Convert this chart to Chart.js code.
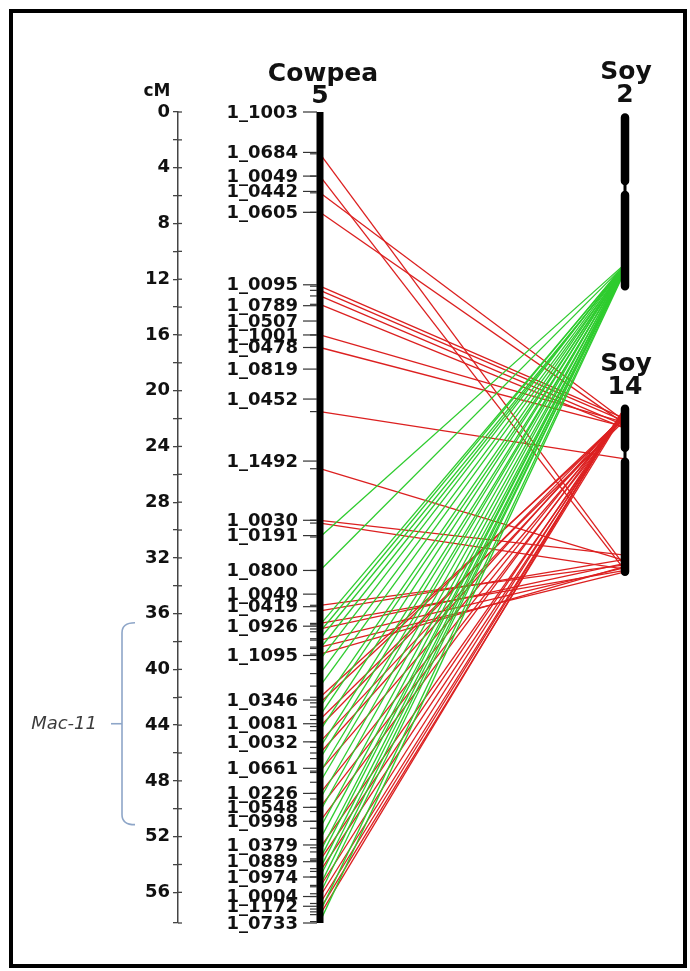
<!DOCTYPE html>
<html>
<head>
<meta charset="utf-8">
<script src="https://cdn.jsdelivr.net/npm/chart.js@4.4.1/dist/chart.umd.min.js"></script>
<style>
  html, body { margin: 0; padding: 0; background: #fff; }
  #wrap { width: 690px; height: 971px; }
</style>
</head>
<body>
<div id="wrap"><canvas id="map" width="690" height="971"></canvas></div>
<script>
// ---- Cowpea linkage group 5 (cM) ----
const mapLength = 58.2;
const markerNames = ['1_1003','1_0684','1_0049','1_0442','1_0605','1_0095','1_0789','1_0507','1_1001','1_0478',
  '1_0819','1_0452','1_1492','1_0030','1_0191','1_0800','1_0040','1_0419','1_0926','1_1095','1_0346','1_0081',
  '1_0032','1_0661','1_0226','1_0548','1_0998','1_0379','1_0889','1_0974','1_0004','1_1172','1_0733'];
const markerCM = [0, 2.9, 4.6, 5.7, 7.2, 12.4, 13.9, 15.0, 16.0, 16.9,
  18.45, 20.6, 25.05, 29.3, 30.4, 32.9, 34.6, 35.5, 36.9, 39.0, 42.2, 43.9,
  45.2, 47.1, 48.9, 49.9, 50.9, 52.6, 53.8, 54.9, 56.3, 57.0, 58.2];

// ---- Syntenic links: cowpea position -> soybean position (same vertical units) ----
const soy2From = [30.5, 32.9, 36.8, 37.3, 37.8, 38.5, 39.3, 40.3, 41.2, 42.7, 43.3, 44.4, 45.6, 46.4,
  47.4, 48.1, 49.3, 50.2, 51.4, 52.2, 53.1, 53.6, 54.3, 54.9, 55.5, 56.1, 57.4, 58.1];
const soy2To = [10.9, 10.95, 11.0, 10.9, 11.1, 11.0, 10.9, 11.0, 11.1, 11.0, 11.2, 11.0, 11.1, 11.0,
  11.2, 11.1, 11.0, 11.2, 11.1, 11.3, 11.2, 11.1, 11.3, 11.2, 11.3, 11.2, 11.3, 11.4];

const soy14From = [3.0, 4.6, 5.8, 7.2, 12.5, 12.8, 13.2, 13.8, 16.0, 16.9, 21.5, 25.6, 29.3, 29.5,
  35.4, 35.8, 36.7, 37.1, 37.9, 38.4, 38.9, 42.0, 42.4, 43.6, 44.1, 45.2, 46.0, 47.3, 48.9, 49.9,
  50.9, 52.8, 53.7, 54.5, 55.6, 56.3, 56.8, 57.2, 57.6];
const soy14To = [32.6, 32.9, 22.2, 22.4, 22.0, 22.2, 22.5, 22.7, 22.3, 22.6, 24.9, 32.2, 31.8, 32.8,
  32.5, 32.1, 32.9, 32.4, 32.7, 33.0, 32.6, 22.0, 21.8, 22.1, 21.7, 21.9, 21.6, 21.8, 21.5, 21.7,
  21.4, 21.6, 21.3, 21.5, 21.2, 21.4, 21.3, 21.5, 21.2];

// ---- Soybean chromosome extents: top, centromere, bottom ----
const soyNames = ['2', '14'];
const soyTop = [0.1, 21.0];
const soyCen = [5.45, 24.6];
const soyBottom = [12.8, 33.3];

// ---- QTL bracket ----
const qtlName = 'Mac-11';
const qtlStart = 36.8;
const qtlEnd = 51.0;

// ---- layout (horizontal scale units 0..100) ----
const X_COWPEA = 28.4;
const X_SOY = 89.4;
const CAP = 0.3;           // half a soybean chromosome width, in vertical units
const RED = 'rgb(220,32,32)';
const GREEN = 'rgb(46,204,46)';
const FONT = 'DejaVu Sans';

function seg(x1, y1, x2, y2, color, width, cap) {
  return {
    data: [{x: x1, y: y1}, {x: x2, y: y2}],
    borderColor: color, backgroundColor: color, borderWidth: width,
    borderCapStyle: cap || 'butt', pointRadius: 0, tension: 0, fill: false, clip: false
  };
}

const datasets = [];
// chromosomes on top
const cowpea = seg(X_COWPEA, 0, X_COWPEA, mapLength, '#000', 7);
cowpea.order = 0;
datasets.push(cowpea);
soyNames.forEach((n, i) => {
  const arms = [
    seg(X_SOY, soyTop[i] + CAP, X_SOY, soyCen[i] - 0.5, '#000', 8.5, 'round'),
    seg(X_SOY, soyCen[i] + 0.5, X_SOY, soyBottom[i] - CAP, '#000', 8.5, 'round'),
    seg(X_SOY, soyTop[i] + CAP, X_SOY, soyBottom[i] - CAP, '#000', 3)
  ];
  arms.forEach(a => { a.order = 0; datasets.push(a); });
});
soy14From.forEach((v, i) => { const d = seg(X_COWPEA, v, X_SOY, soy14To[i], RED, 1.3); d.order = 2; datasets.push(d); });
soy2From.forEach((v, i) => { const d = seg(X_COWPEA, v, X_SOY, soy2To[i], GREEN, 1.3); d.order = 1; datasets.push(d); });

function line(ctx, x1, y1, x2, y2) { ctx.beginPath(); ctx.moveTo(x1, y1); ctx.lineTo(x2, y2); ctx.stroke(); }

const decor = {
  id: 'decor',
  beforeDraw(chart) {
    const ctx = chart.ctx;
    ctx.save(); ctx.fillStyle = '#fff'; ctx.fillRect(0, 0, chart.width, chart.height); ctx.restore();
  },
  afterDraw(chart) {
    const ctx = chart.ctx, ys = chart.scales.y, xs = chart.scales.x;
    const cx = xs.getPixelForValue(X_COWPEA), sx = xs.getPixelForValue(X_SOY);
    const ax = chart.chartArea.left;
    ctx.save();

    // right-hand half of the cM axis ticks
    ctx.strokeStyle = '#444'; ctx.lineWidth = 1.3;
    ys.ticks.forEach(t => { const y = ys.getPixelForValue(t.value); line(ctx, ax, y, ax + 4, y); });

    // marker ticks where links leave the cowpea group
    ctx.strokeStyle = '#333'; ctx.lineWidth = 1.2;
    soy2From.concat(soy14From).forEach(v => { const y = ys.getPixelForValue(v); line(ctx, cx - 10, y, cx - 3, y); });

    // marker names with leader dashes
    ctx.fillStyle = '#111';
    ctx.font = 'bold 18px "' + FONT + '"';
    ctx.textAlign = 'right'; ctx.textBaseline = 'middle';
    markerNames.forEach((n, i) => {
      const y = ys.getPixelForValue(markerCM[i]);
      ctx.fillText(n, cx - 22, y + 1);
      line(ctx, cx - 17, y, cx - 3, y);
    });

    // titles
    ctx.textAlign = 'center'; ctx.textBaseline = 'alphabetic';
    ctx.font = 'bold 25px "' + FONT + '"';
    const top0 = ys.getPixelForValue(0);
    ctx.fillText('Cowpea', cx + 3, top0 - 31);
    ctx.fillText('5', cx, top0 - 9);
    soyNames.forEach((n, i) => {
      const t = ys.getPixelForValue(soyTop[i]);
      ctx.fillText('Soy', sx + 1, t - 34);
      ctx.fillText(n, sx, t - 11);
    });
    ctx.font = 'bold 17px "' + FONT + '"';
    ctx.fillText('cM', ax - 21, top0 - 16);

    // QTL bracket
    const yA = ys.getPixelForValue(qtlStart), yB = ys.getPixelForValue(qtlEnd);
    const yM = (yA + yB) / 2, bx = 122;
    ctx.strokeStyle = '#8ea6c8'; ctx.lineWidth = 1.6;
    ctx.beginPath();
    ctx.moveTo(bx + 13, yA - 2);
    ctx.quadraticCurveTo(bx, yA - 2, bx, yA + 8);
    ctx.lineTo(bx, yB - 8);
    ctx.quadraticCurveTo(bx, yB + 2, bx + 13, yB + 2);
    ctx.stroke();
    line(ctx, bx - 11, yM, bx, yM);
    ctx.fillStyle = '#3c3c3c';
    ctx.font = 'oblique 18px "' + FONT + '"';
    ctx.textAlign = 'right'; ctx.textBaseline = 'middle';
    ctx.fillText(qtlName, bx - 25, yM + 1);

    // frame
    ctx.strokeStyle = '#000'; ctx.lineWidth = 4;
    ctx.strokeRect(11, 11, 674, 955);
    ctx.restore();
  }
};

new Chart(document.getElementById('map'), {
  type: 'line',
  data: { datasets },
  options: {
    responsive: false,
    animation: false,
    devicePixelRatio: 1,
    layout: { padding: { left: 0, top: 112, right: 12, bottom: 48 } },
    plugins: { legend: { display: false }, tooltip: { enabled: false }, title: { display: false } },
    scales: {
      x: { type: 'linear', min: 0, max: 100, display: false },
      y: {
        type: 'linear', reverse: true, min: 0, max: mapLength, position: 'left',
        afterFit(s) { s.width = 178; },
        ticks: {
          stepSize: 2, autoSkip: false, padding: 3, color: '#111',
          font: { family: FONT, weight: 'bold', size: 18 },
          callback: v => (Math.abs(v % 4) < 1e-9 ? String(v) : '')
        },
        grid: { drawOnChartArea: false, drawTicks: true, tickLength: 5, color: '#444', lineWidth: 1.3 },
        border: { display: true, color: '#444', width: 1.5 }
      }
    }
  },
  plugins: [decor]
});
</script>
</body>
</html>
